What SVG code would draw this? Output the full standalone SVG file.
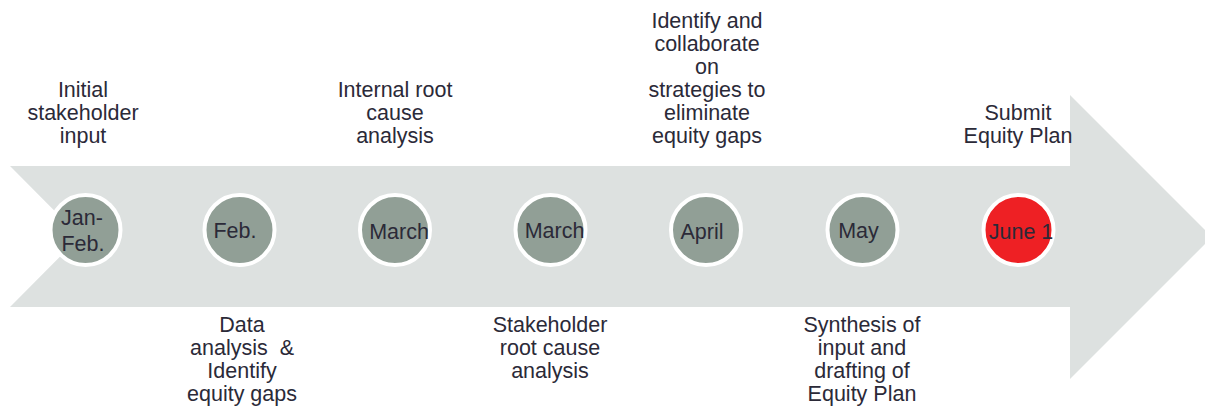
<svg xmlns="http://www.w3.org/2000/svg" width="1205" height="408" viewBox="0 0 1205 408">
<style>
text{font-family:"Liberation Sans",Arial,sans-serif;font-size:21.5px;fill:#2b2a38;text-anchor:middle}
.dot{fill:#919f96;stroke:#ffffff;stroke-width:4}
.red{fill:#ee2024}
</style>
<rect width="1205" height="408" fill="#ffffff"/>
<g id="arrow">
<polygon points="10,166 1070,166 1070,95 1212,237 1070,379 1070,307 10,307 80,236.5" fill="#dde1e0"/>
</g>
<g id="connectors"></g>
<g id="n1"><circle class="dot" cx="85.5" cy="230" r="35"/><text x="82" y="225">Jan-</text><text x="83" y="251">Feb.</text>
<text x="83" y="96.5">Initial</text><text x="83" y="119.5">stakeholder</text><text x="83" y="142.5">input</text></g>
<g id="n2"><circle class="dot" cx="239.5" cy="230" r="35"/><text x="235" y="238">Feb.</text>
<text x="242" y="332">Data</text><text x="242" y="355" xml:space="preserve">analysis  &amp;</text><text x="242" y="378">Identify</text><text x="242" y="401">equity gaps</text></g>
<g id="n3"><circle class="dot" cx="395" cy="230" r="35"/><text x="399" y="239">March</text>
<text x="395" y="96.5">Internal root</text><text x="395" y="119.5">cause</text><text x="395" y="142.5">analysis</text></g>
<g id="n4"><circle class="dot" cx="550.5" cy="230" r="35"/><text x="554.5" y="237.5">March</text>
<text x="550" y="332">Stakeholder</text><text x="550" y="355">root cause</text><text x="550" y="378">analysis</text></g>
<g id="n5"><circle class="dot" cx="706" cy="230" r="35"/><text x="702" y="239">April</text>
<text x="707" y="27.5">Identify and</text><text x="707" y="50.5">collaborate</text><text x="707" y="73.5">on</text><text x="707" y="96.5">strategies to</text><text x="707" y="119.5">eliminate</text><text x="707" y="142.5">equity gaps</text></g>
<g id="n6"><circle class="dot" cx="862.5" cy="230" r="35"/><text x="858.5" y="238">May</text>
<text x="862" y="332">Synthesis of</text><text x="862" y="355">input and</text><text x="862" y="378">drafting of</text><text x="862" y="401">Equity Plan</text></g>
<g id="n7"><circle class="dot red" cx="1018.5" cy="230" r="35"/><text x="1021" y="239">June 1</text>
<text x="1018" y="119.5">Submit</text><text x="1018" y="142.5">Equity Plan</text></g>
</svg>
